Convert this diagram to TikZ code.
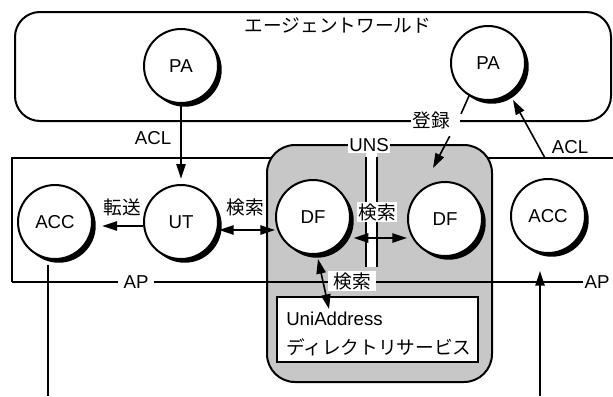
\documentclass[tikz,border=0pt]{standalone}
\usepackage{fontspec}
\setmainfont{Liberation Sans}
\newfontfamily\jp{Noto Sans CJK JP}
\usetikzlibrary{arrows.meta,shadows,calc}
\begin{document}
\begin{tikzpicture}[x=0.75pt,y=-0.75pt,
  agent/.style={circle,draw,fill=white,line width=1.5pt,minimum size=55.5pt,inner sep=0pt,
    font=\fontsize{14}{16}\selectfont,
    drop shadow={shadow xshift=2.8pt,shadow yshift=-2.8pt,fill=black,opacity=1}},
  lbl/.style={font=\fontsize{14}{16}\selectfont, inner sep=1pt},
  jlbl/.style={font=\fontsize{14}{16}\selectfont\jp, inner sep=1pt},
  ln/.style={line width=1.2pt},
  arr/.style={ln,-{Triangle[length=11pt,width=7pt]}},
  darr/.style={ln,{Triangle[length=11pt,width=7pt]}-{Triangle[length=11pt,width=7pt]}},
]
\useasboundingbox (0,0) rectangle (613,396);

% agent world
\node[draw, line width=1.5pt, rounded corners=18.75pt, minimum width=447pt, minimum height=81.75pt, inner sep=0pt] (world) at (313,66.5) {};
\node[jlbl] (title) at (338,25) {エージェントワールド};

% AP box (top and left side)
\coordinate (apTR) at (613,158);
\coordinate (apTL) at (12,158);
\coordinate (apBL) at (12,282);
\draw[ln] (apTR) -- (apTL) -- (apBL);

% UNS
\node[draw, line width=1.5pt, fill=black!22, rounded corners=21pt, minimum width=168.75pt, minimum height=177.75pt, inner sep=0pt] (uns) at (379.5,263.5) {};
\fill[white] (366,152) rectangle (377,267);
\coordinate (s1t) at (366,157); \coordinate (s1b) at (366,267);
\coordinate (s2t) at (377,157); \coordinate (s2b) at (377,267);
\draw[ln] (s1t) -- (s1b) (s2t) -- (s2b);
\node[lbl, fill=white] (unslbl) at (369,145) {UNS};

% UniAddress directory
\node[draw, line width=1.5pt, fill=white, minimum width=150.75pt, minimum height=48.75pt, inner sep=0pt] (ua) at (377.5,329.5) {};
\node[font=\fontsize{14}{21.75}\selectfont, align=left, anchor=west, inner sep=0pt] (uatext) at (286,333.5) {UniAddress\\{\jp ディレクトリサービス}};

% AP bottom line
\node[lbl] (ap2) at (597,282) {AP};
\draw[ln] (apBL) -- (ap2.west);
\node[lbl, fill=white, inner xsep=4pt] (ap1) at (136,282) {AP};

% agents
\node[agent] (pa1) at (181,66) {PA};
\node[agent] (pa2) at (488,63) {PA};
\node[agent] (acc1) at (55,222) {ACC};
\node[agent] (ut) at (181,222) {UT};
\node[agent] (df1) at (313,217) {DF};
\node[agent] (df2) at (445,219) {DF};
\node[agent] (acc2) at (548,216) {ACC};

% connectors
\draw[arr, shorten >=4pt] (pa1) -- (ut);
\node[lbl] (acl1) at (153,138) {ACL};

\draw[arr, shorten >=7pt] ([yshift=-3pt]ut.west) -- ([yshift=-3pt]acc1.east);
\node[jlbl] (tenso) at (122,207) {転送};

\draw[darr] ([yshift=-6pt]ut.east) -- ([yshift=-6pt]ut.east -| df1.west);
\node[jlbl] (ken1) at (245,207) {検索};

\draw[darr, shorten <=2pt] ([yshift=-15.75pt]df1.east) -- ([yshift=-15.75pt]df1.east -| df2.west);
\node[jlbl, fill=white] (ken2) at (377,212) {検索};

\draw[darr] ($(df1.south)+(5,4)$) -- ($(ua.north west)+(53,13)$);
\node[jlbl, fill=white, inner xsep=4pt] (ken3) at (352,281) {検索};

\node[jlbl, fill=white] (toroku) at (435.7,120) {登録\hspace*{7pt}};
\draw[ln] (pa2.-120) -- ++(-8,18);
\coordinate (regtip) at (433,168);
\draw[arr] ($(toroku.south)+(14,6)$) -- (regtip);

\coordinate (aclfoot) at (545,158);
\draw[arr] (aclfoot) -- ($(pa2)+(25,37)$);
\node[lbl] (acl2) at (570,147) {ACL};

\coordinate (acc2foot) at (540,396);
\draw[arr] (acc2foot) -- ($(acc2.south)+(-8,17)$);

\coordinate (acc1foot) at (48,396);
\draw[ln] ($(acc1.south)+(-7,5)$) -- (acc1foot);
\end{tikzpicture}
\end{document}
